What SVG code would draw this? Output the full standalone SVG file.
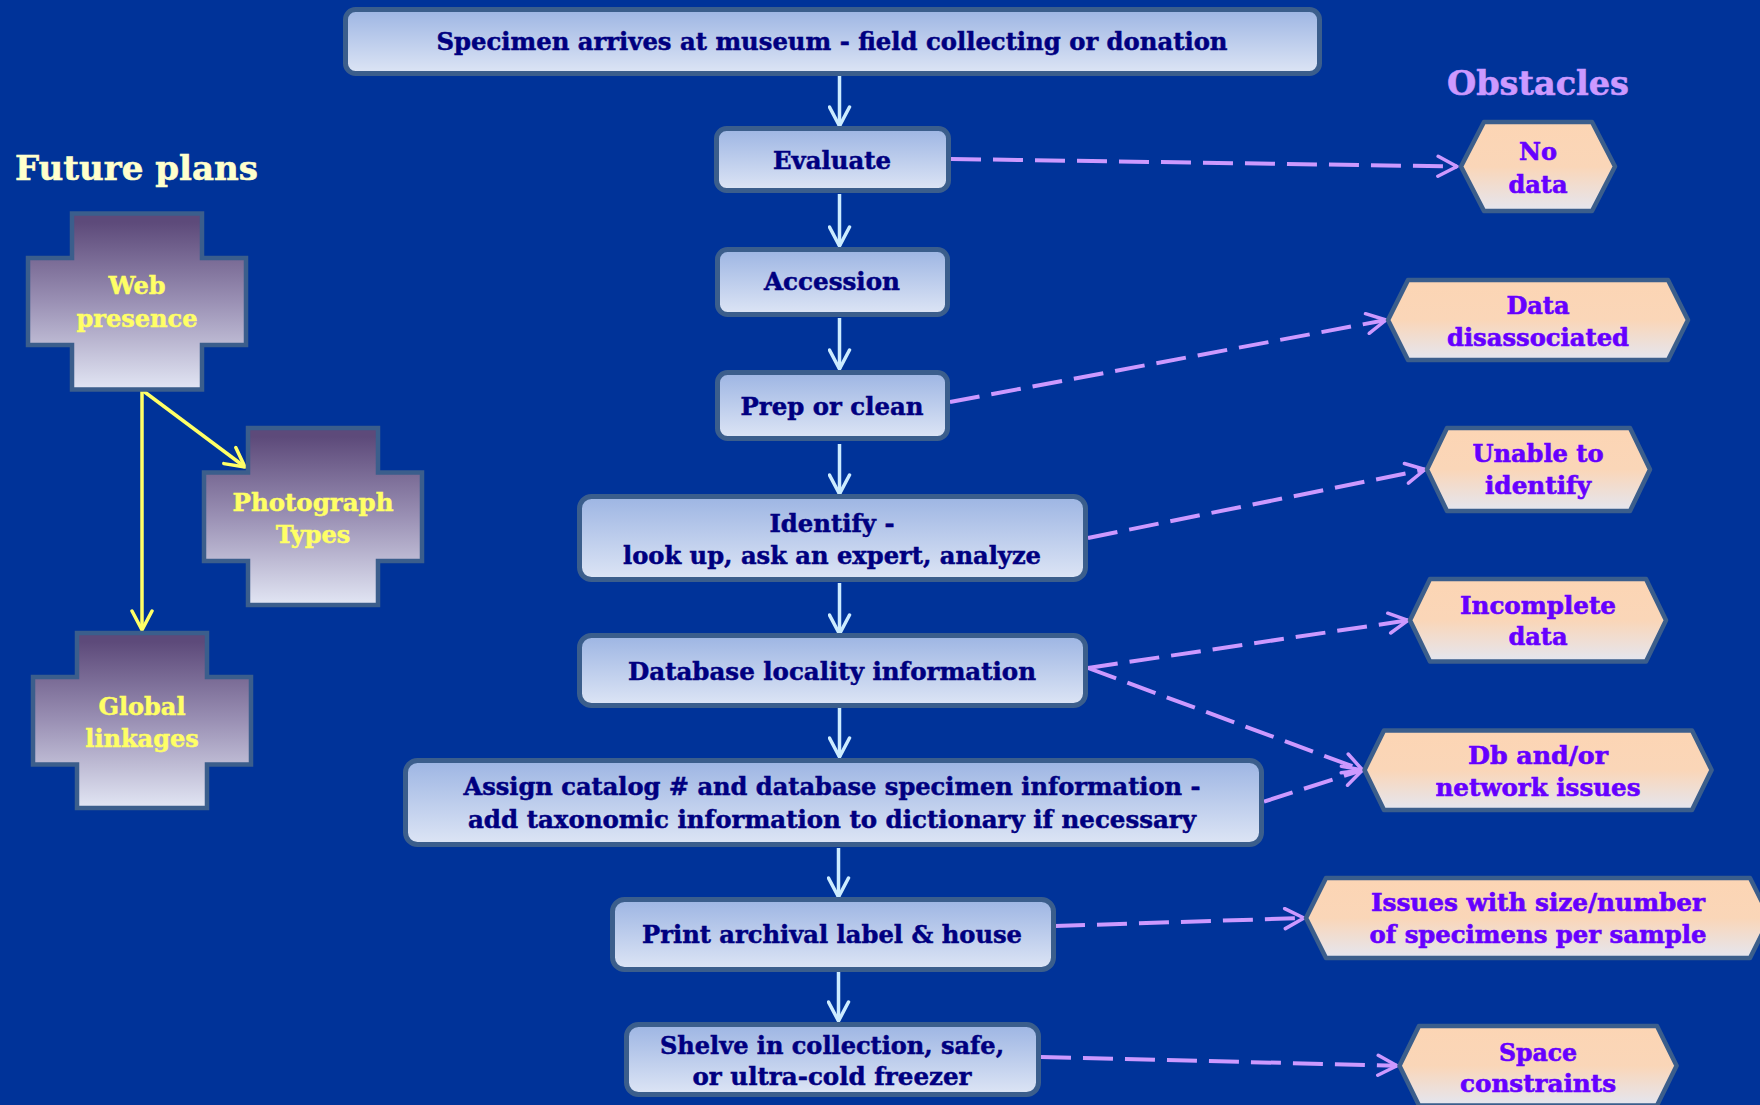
<svg xmlns="http://www.w3.org/2000/svg" width="1760" height="1105" viewBox="0 0 1760 1105">
<defs>
<style>
.box{fill:url(#gBox);stroke:#3B5E8C;stroke-width:5}
.cross{fill:url(#gCross);stroke:#3B5E8C;stroke-width:4.5}
.hex{fill:url(#gHex);stroke:#3B5E8C;stroke-width:4.5;stroke-linejoin:round}
.bt{font-family:"DejaVu Serif","Liberation Serif",serif;font-weight:bold;font-size:24px;fill:#000080;stroke:#000080;stroke-width:0.5;text-anchor:middle}
.ht{font-family:"DejaVu Serif","Liberation Serif",serif;font-weight:bold;font-size:24px;fill:#6600FF;stroke:#6600FF;stroke-width:0.6;text-anchor:middle}
.ct{font-family:"DejaVu Serif","Liberation Serif",serif;font-weight:bold;font-size:24px;fill:#FFFF66;stroke:#FFFF66;stroke-width:0.5;text-anchor:middle}
.title{font-family:"DejaVu Serif","Liberation Serif",serif;font-weight:bold;font-size:34px;stroke-width:0.6}
.flow{stroke:#CCECFF;stroke-width:3.5;fill:none;marker-end:url(#mBlue)}
.dash{stroke:#CC99FF;stroke-width:4;fill:none;stroke-dasharray:30 12;marker-end:url(#mPurple)}
.yel{stroke:#FFFF66;stroke-width:3.5;fill:none;marker-end:url(#mYellow)}
</style>
<linearGradient id="gBox" x1="0" y1="0" x2="0" y2="1">
<stop offset="0" stop-color="#9DB5E3"/><stop offset="1" stop-color="#DDE5F5"/>
</linearGradient>
<linearGradient id="gCross" x1="0" y1="0" x2="0" y2="1">
<stop offset="0.05" stop-color="#5D4A7A"/><stop offset="0.5" stop-color="#9A90B4"/><stop offset="1" stop-color="#E2E6F4"/>
</linearGradient>
<linearGradient id="gHex" x1="0" y1="0" x2="0" y2="1">
<stop offset="0" stop-color="#FCD5B4"/><stop offset="0.5" stop-color="#FAD6B8"/><stop offset="1" stop-color="#E4E6F0"/>
</linearGradient>
<marker id="mBlue" viewBox="0 0 24 24" refX="22" refY="12" markerWidth="24" markerHeight="24" markerUnits="userSpaceOnUse" orient="auto">
<path d="M3,2 L22,12 L3,22" fill="none" stroke="#CCECFF" stroke-width="3.5" stroke-linecap="round" stroke-linejoin="round"/>
</marker>
<marker id="mPurple" viewBox="0 0 24 24" refX="22" refY="12" markerWidth="24" markerHeight="24" markerUnits="userSpaceOnUse" orient="auto">
<path d="M3,2 L22,12 L3,22" fill="none" stroke="#CC99FF" stroke-width="3.5" stroke-linecap="round" stroke-linejoin="round"/>
</marker>
<marker id="mYellow" viewBox="0 0 24 24" refX="22" refY="12" markerWidth="24" markerHeight="24" markerUnits="userSpaceOnUse" orient="auto">
<path d="M3,2 L22,12 L3,22" fill="none" stroke="#FFFF66" stroke-width="3.5" stroke-linecap="round" stroke-linejoin="round"/>
</marker>
</defs>
<rect x="0" y="0" width="1760" height="1105" fill="#003399"/>

<text class="title" x="15" y="180" fill="#FFFFCC" stroke="#FFFFCC" textLength="243" lengthAdjust="spacingAndGlyphs">Future plans</text>
<text class="title" x="1447" y="95" fill="#CC99FF" stroke="#CC99FF" textLength="182" lengthAdjust="spacingAndGlyphs">Obstacles</text>

<g id="connectors">
<line class="flow" x1="839.5" y1="76" x2="839.5" y2="126"/>
<line class="flow" x1="839.5" y1="194" x2="839.5" y2="246"/>
<line class="flow" x1="839.5" y1="318" x2="839.5" y2="369"/>
<line class="flow" x1="839.5" y1="444" x2="839.5" y2="494"/>
<line class="flow" x1="839.5" y1="583" x2="839.5" y2="634"/>
<line class="flow" x1="839.5" y1="708" x2="839.5" y2="757"/>
<line class="flow" x1="838.5" y1="848" x2="838.5" y2="897"/>
<line class="flow" x1="838.5" y1="972" x2="838.5" y2="1021"/>
<line class="dash" x1="951" y1="159" x2="1457" y2="166.5"/>
<line class="dash" x1="950" y1="402" x2="1386" y2="320"/>
<line class="dash" x1="1088" y1="538" x2="1425" y2="469.5"/>
<line class="dash" x1="1088" y1="668" x2="1408" y2="620.3"/>
<line class="dash" x1="1088" y1="668" x2="1362.5" y2="770"/>
<line class="dash" x1="1264" y1="801.6" x2="1362.5" y2="770"/>
<line class="dash" x1="1055" y1="926" x2="1304" y2="918"/>
<line class="dash" x1="1041" y1="1057" x2="1397" y2="1065.7"/>
<line class="yel" x1="142" y1="390" x2="142" y2="630"/>
<line class="yel" x1="142" y1="390" x2="245" y2="467"/>
</g>

<g id="n-specimen"><rect class="box" x="345.5" y="9.5" width="974" height="64" rx="10"/>
<text class="bt" x="832" y="50" textLength="791" lengthAdjust="spacingAndGlyphs">Specimen arrives at museum - field collecting or donation</text></g>
<g id="n-evaluate"><rect class="box" x="716.5" y="128.5" width="232" height="62" rx="10"/>
<text class="bt" x="832" y="168.5" textLength="118" lengthAdjust="spacingAndGlyphs">Evaluate</text></g>
<g id="n-accession"><rect class="box" x="717.5" y="249.5" width="230" height="65" rx="10"/>
<text class="bt" x="832" y="290" textLength="136" lengthAdjust="spacingAndGlyphs">Accession</text></g>
<g id="n-prep"><rect class="box" x="717.5" y="372.5" width="230" height="66" rx="10"/>
<text class="bt" x="832" y="414.5" textLength="183" lengthAdjust="spacingAndGlyphs">Prep or clean</text></g>
<g id="n-identify"><rect class="box" x="579.5" y="496.5" width="506" height="83" rx="12"/>
<text class="bt" x="832" y="532" textLength="125" lengthAdjust="spacingAndGlyphs">Identify -</text>
<text class="bt" x="832" y="563.5" textLength="418" lengthAdjust="spacingAndGlyphs">look up, ask an expert, analyze</text></g>
<g id="n-database"><rect class="box" x="579.5" y="635.5" width="506" height="70" rx="12"/>
<text class="bt" x="832" y="680" textLength="408" lengthAdjust="spacingAndGlyphs">Database locality information</text></g>
<g id="n-assign"><rect class="box" x="405.5" y="760.5" width="856" height="84" rx="12"/>
<text class="bt" x="832" y="795" textLength="737" lengthAdjust="spacingAndGlyphs">Assign catalog # and database specimen information -</text>
<text class="bt" x="832" y="828" textLength="728" lengthAdjust="spacingAndGlyphs">add taxonomic information to dictionary if necessary</text></g>
<g id="n-print"><rect class="box" x="612.5" y="899.5" width="441" height="70" rx="12"/>
<text class="bt" x="832" y="942.5" textLength="380" lengthAdjust="spacingAndGlyphs">Print archival label &amp; house</text></g>
<g id="n-shelve"><rect class="box" x="626.5" y="1024.5" width="412" height="70" rx="12"/>
<text class="bt" x="832" y="1053.5" textLength="344" lengthAdjust="spacingAndGlyphs">Shelve in collection, safe,</text>
<text class="bt" x="832" y="1085" textLength="279" lengthAdjust="spacingAndGlyphs">or ultra-cold freezer</text></g>

<g id="f-web"><path class="cross" d="M72,213.5 H202 V258 H246 V345 H202 V389.5 H72 V345 H28 V258 H72 Z"/>
<text class="ct" x="137" y="293.5">Web</text><text class="ct" x="137" y="326.5" textLength="121" lengthAdjust="spacingAndGlyphs">presence</text></g>
<g id="f-photo"><path class="cross" d="M248,428 H378 V472.5 H422 V561 H378 V605 H248 V561 H204 V472.5 H248 Z"/>
<text class="ct" x="313" y="510.5" textLength="161" lengthAdjust="spacingAndGlyphs">Photograph</text><text class="ct" x="313" y="543">Types</text></g>
<g id="f-global"><path class="cross" d="M77,633 H207 V677 H251 V764.5 H207 V808 H77 V764.5 H33 V677 H77 Z"/>
<text class="ct" x="142" y="714.5">Global</text><text class="ct" x="142" y="747">linkages</text></g>

<g id="o-nodata"><path class="hex" d="M1484,122 H1592 L1615,166.5 L1592,211 H1484 L1461,166.5 Z"/>
<text class="ht" x="1538" y="160">No</text><text class="ht" x="1538" y="192.5">data</text></g>
<g id="o-disassoc"><path class="hex" d="M1408,280 H1668 L1688,320 L1668,360 H1408 L1388,320 Z"/>
<text class="ht" x="1538" y="313.5">Data</text><text class="ht" x="1538" y="345.5" textLength="182" lengthAdjust="spacingAndGlyphs">disassociated</text></g>
<g id="o-unable"><path class="hex" d="M1447,428 H1630 L1650,469.5 L1630,511 H1447 L1427,469.5 Z"/>
<text class="ht" x="1538" y="461.5" textLength="131" lengthAdjust="spacingAndGlyphs">Unable to</text><text class="ht" x="1538" y="493.5" textLength="106" lengthAdjust="spacingAndGlyphs">identify</text></g>
<g id="o-incomplete"><path class="hex" d="M1430,579 H1646 L1666,620.3 L1646,661.6 H1430 L1410,620.3 Z"/>
<text class="ht" x="1538" y="613.5" textLength="156" lengthAdjust="spacingAndGlyphs">Incomplete</text><text class="ht" x="1538" y="645">data</text></g>
<g id="o-db"><path class="hex" d="M1384,730.6 H1692 L1711.6,770 L1692,810 H1384 L1364.5,770 Z"/>
<text class="ht" x="1538" y="763.5" textLength="140" lengthAdjust="spacingAndGlyphs">Db and/or</text><text class="ht" x="1538" y="796" textLength="205" lengthAdjust="spacingAndGlyphs">network issues</text></g>
<g id="o-issues"><path class="hex" d="M1326,878 H1750 L1770,918 L1750,958 H1326 L1306,918 Z"/>
<text class="ht" x="1538" y="910.5" textLength="334" lengthAdjust="spacingAndGlyphs">Issues with size/number</text><text class="ht" x="1538" y="943" textLength="337" lengthAdjust="spacingAndGlyphs">of specimens per sample</text></g>
<g id="o-space"><path class="hex" d="M1419,1026 H1657 L1676.6,1065.7 L1657,1105.4 H1419 L1399.5,1065.7 Z"/>
<text class="ht" x="1538" y="1060.5" textLength="78" lengthAdjust="spacingAndGlyphs">Space</text><text class="ht" x="1538" y="1091.5" textLength="156" lengthAdjust="spacingAndGlyphs">constraints</text></g>
</svg>
